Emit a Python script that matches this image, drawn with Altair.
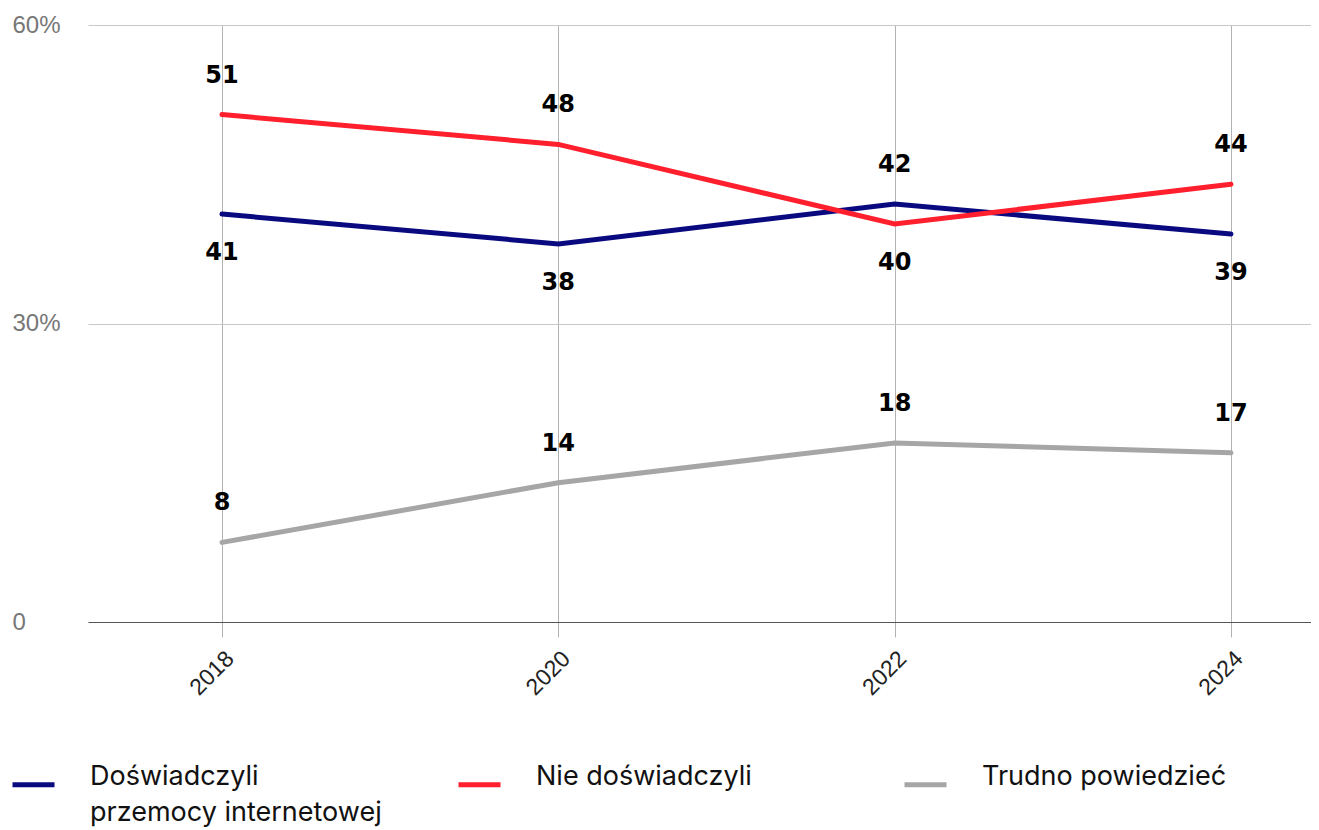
import altair as alt
import pandas as pd

years = [2018, 2020, 2022, 2024]
series = ["Doświadczyli przemocy internetowej", "Nie doświadczyli", "Trudno powiedzieć"]
experienced = [41, 38, 42, 39]
not_experienced = [51, 48, 40, 44]
hard_to_say = [8, 14, 18, 17]
colors = ["#0a0a80", "#ff1f2d", "#a6a6a6"]
y_ticks = [0, 30, 60]

values_by_series = [experienced, not_experienced, hard_to_say]
rows = []
for s_idx, (name, vals) in enumerate(zip(series, values_by_series)):
    for i, (yr, v) in enumerate(zip(years, vals)):
        if s_idx == 2:
            above = True
        else:
            other = values_by_series[1 - s_idx][i]
            above = v >= other
        rows.append(dict(year=yr, value=v, series=name, above=above))
df = pd.DataFrame(rows)

x = alt.X(
    "year:Q",
    scale=alt.Scale(domain=[2017.2032, 2024.476], nice=False, zero=False),
    axis=alt.Axis(
        values=years, format="d", labelAngle=-45, labelFontSize=23,
        labelColor="#222", labelFont="Liberation Sans", grid=True,
        gridColor="#b3b3b3", tickColor="#b3b3b3", tickSize=15,
        domainColor="#555", labelPadding=10, title=None,
    ),
)
y = alt.Y(
    "value:Q",
    scale=alt.Scale(domain=[0, 60], nice=False),
    axis=alt.Axis(
        values=y_ticks,
        labelExpr="datum.value == 0 ? '0' : datum.value + '%'",
        labelAlign="left", labelPadding=76, tickSize=0, ticks=False,
        domain=False, gridColor="#c8c8c8", labelColor="#777",
        labelFontSize=24, labelFont="Liberation Sans", title=None,
    ),
)

legend_label_expr = (
    "datum.label == 'Doświadczyli przemocy internetowej' "
    "? ['Doświadczyli', 'przemocy internetowej'] : [datum.label, '']"
)

color = alt.Color(
    "series:N",
    scale=alt.Scale(domain=series, range=colors),
    legend=alt.Legend(
        orient="none", legendX=-78, legendY=736, direction="horizontal",
        columns=3, gridAlign="all", columnPadding=66,
        symbolType="stroke", symbolSize=1764, symbolStrokeWidth=5,
        labelFontSize=27, labelFont="Inter", labelColor="#111",
        labelBaseline="alphabetic",
        labelLimit=420, labelOffset=33, title=None,
        labelExpr=legend_label_expr,
    ),
)

base = alt.Chart(df)
lines = base.mark_line(strokeWidth=5, strokeCap="round").encode(x=x, y=y, color=color)
txt_above = base.transform_filter("datum.above").mark_text(
    font="DejaVu Sans", fontWeight="bold", fontSize=24, dy=-39, color="#000"
).encode(x=x, y=y, text="value:Q")
txt_below = base.transform_filter("!datum.above").mark_text(
    font="DejaVu Sans", fontWeight="bold", fontSize=24, dy=39, color="#000"
).encode(x=x, y=y, text="value:Q")

chart = (
    alt.layer(lines, txt_above, txt_below)
    .properties(
        width=1223, height=597,
        autosize=alt.AutoSizeParams(type="none"),
        padding={"left": 80, "top": 17, "right": 0, "bottom": 207},
    )
    .configure(style={"guide-label": {"lineHeight": 36}})
    .configure_view(stroke=None)
)

chart.save("out.html", embed_options={"renderer": "svg", "actions": False})
